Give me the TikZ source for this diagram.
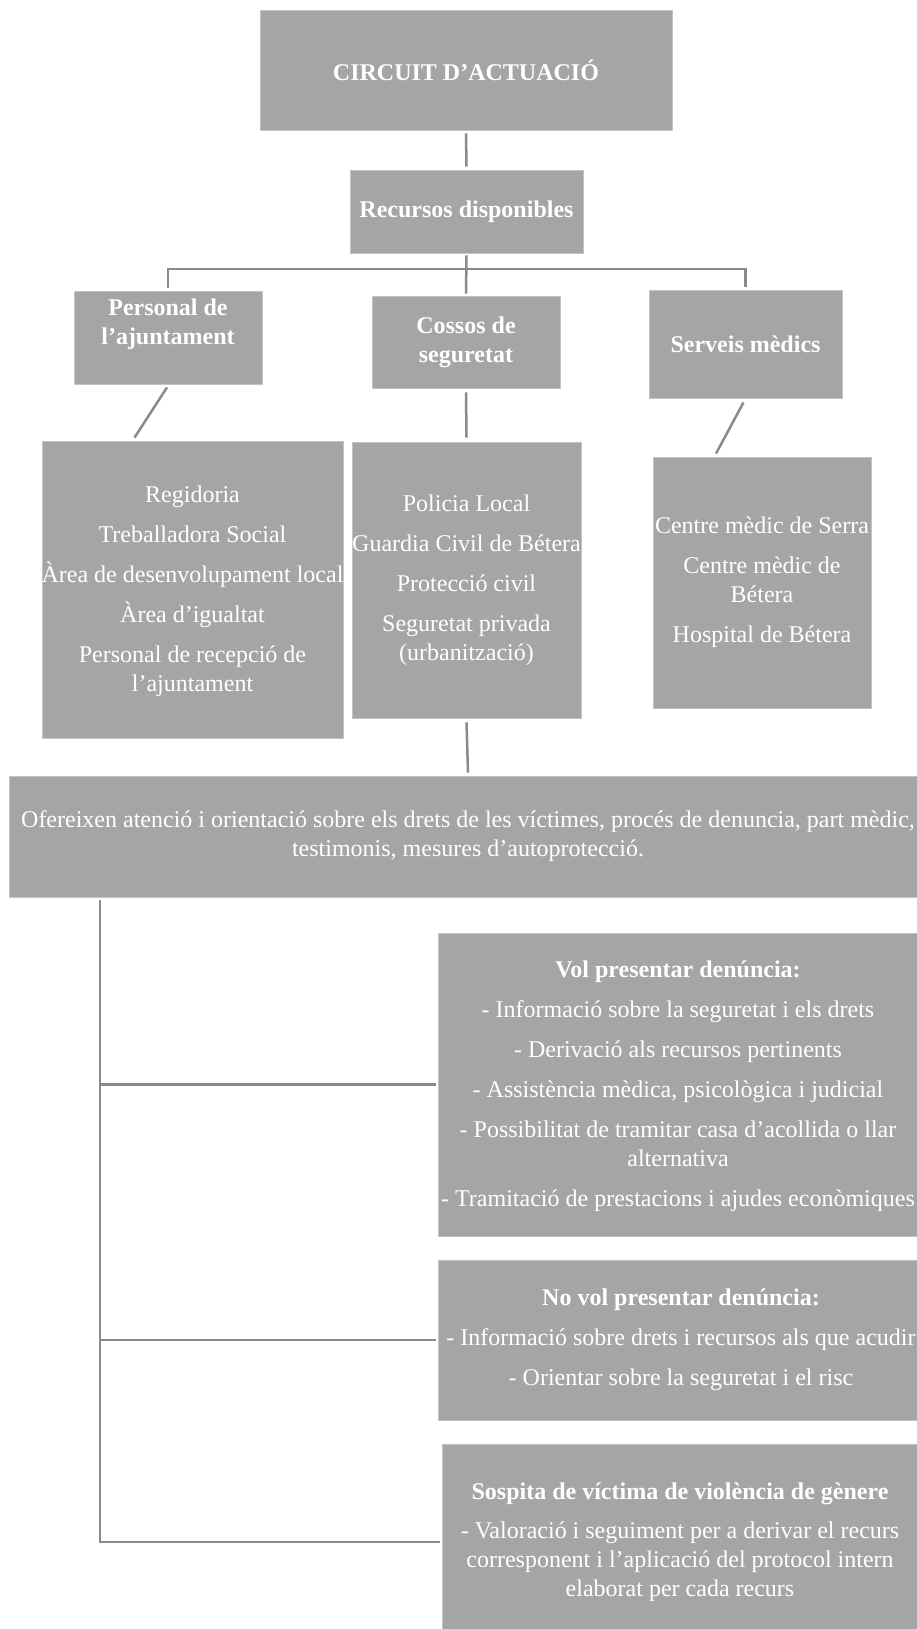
\documentclass[tikz,border=0pt]{standalone}
\usepackage{fontspec}
\setmainfont{Liberation Serif}
\definecolor{boxgray}{HTML}{A5A5A5}
\definecolor{edgegray}{HTML}{C4C4C4}
\definecolor{linegray}{HTML}{8A8A8A}
\begin{document}
\begin{tikzpicture}[x=1pt,y=-1pt,
  box/.style={fill=boxgray,draw=edgegray,line width=0.8pt,inner sep=0pt,rectangle},
  txt/.style={text=white,align=center,inner sep=0pt,font=\fontsize{24}{29}\selectfont},
  conn/.style={draw=linegray,line width=2.5pt}]
\useasboundingbox (0,0) rectangle (917,1629);
\def\g{11pt}
% boxes
\node[box,minimum width=412pt,minimum height=120pt] (top) at (466,70) {};
\node[txt] (top-t) at (top) {\textbf{CIRCUIT D’ACTUACIÓ}};
\node[box,minimum width=233pt,minimum height=83pt] (rec) at (466.5,211.5) {};
\node[txt] (rec-t) at (rec) {\textbf{Recursos disponibles}};
\node[box,minimum width=188pt,minimum height=93pt] (pers) at (168,337.5) {};
\node[txt] (pers-t) at (168,324) {\textbf{Personal de}\\\textbf{l’ajuntament}};
\node[box,minimum width=188pt,minimum height=92pt] (coss) at (466,342) {};
\node[txt] (coss-t) at (coss) {\textbf{Cossos de}\\\textbf{seguretat}};
\node[box,minimum width=193pt,minimum height=108pt] (serv) at (745.5,344) {};
\node[txt] (serv-t) at (serv) {\textbf{Serveis mèdics}};
\node[box,minimum width=301pt,minimum height=297pt] (reg) at (192.5,589.5) {};
\node[txt] (reg-t) at ([yshift=-2pt]reg.center) {Regidoria\\[\g] Treballadora Social\\[\g] Àrea de desenvolupament local\\[\g] Àrea d’igualtat\\[\g] Personal de recepció de\\ l’ajuntament};
\node[box,minimum width=229pt,minimum height=276pt] (pol) at (466.5,580) {};
\node[txt] (pol-t) at (pol) {Policia Local\\[\g] Guardia Civil de Bétera\\[\g] Protecció civil\\[\g] Seguretat privada\\ (urbanització)};
\node[box,minimum width=218pt,minimum height=251pt] (cen) at (762,582.5) {};
\node[txt] (cen-t) at (cen) {Centre mèdic de Serra\\[\g] Centre mèdic de\\ Bétera\\[\g] Hospital de Bétera};
\node[box,minimum width=918pt,minimum height=121pt] (big) at (468,836.5) {};
\node[txt] (big-t) at (big) {Ofereixen atenció i orientació sobre els drets de les víctimes, procés de denuncia, part mèdic,\\ testimonis, mesures d’autoprotecció.};
\node[box,minimum width=480pt,minimum height=303pt] (vol) at (678,1084.5) {};
\node[txt] (vol-t) at ([yshift=-2pt]vol.center) {\textbf{Vol presentar denúncia:}\\[\g] - Informació sobre la seguretat i els drets\\[\g] - Derivació als recursos pertinents\\[\g] - Assistència mèdica, psicològica i judicial\\[\g] - Possibilitat de tramitar casa d’acollida o llar\\ alternativa\\[\g] - Tramitació de prestacions i ajudes econòmiques};
\node[box,minimum width=486pt,minimum height=160pt] (novol) at (681,1340) {};
\node[txt] (novol-t) at (novol) {\textbf{No vol presentar denúncia:}\\[\g] - Informació sobre drets i recursos als que acudir\\[\g] - Orientar sobre la seguretat i el risc};
\node[box,minimum width=476pt,minimum height=196pt] (sosp) at (680,1542) {};
\node[txt] (sosp-t) at (sosp) {\textbf{Sospita de víctima de violència de gènere}\\[10pt] - Valoració i seguiment per a derivar el recurs\\ corresponent i l’aplicació del protocol intern\\ elaborat per cada recurs};
% connectors
\coordinate (bar) at (466,269);
\coordinate (trunk) at (100,900);
\draw[conn] ([yshift=-3pt]top.south) -- ([yshift=3pt]rec.north);
\draw[conn] ([yshift=-2pt]rec.south) -- ([yshift=2pt]coss.north);
\draw[conn] ([yshift=3pt]pers.north) |- (bar) -| ([yshift=3pt]serv.north);
\draw[conn] ([xshift=-1pt,yshift=-3pt]pers.south) -- ([xshift=-58pt,yshift=3pt]reg.north);
\draw[conn] ([xshift=-2pt,yshift=-4pt]serv.south) -- ([xshift=-46pt,yshift=3pt]cen.north);
\draw[conn] ([yshift=-4pt]coss.south) -- ([yshift=4pt]pol.north);
\draw[conn] ([yshift=-4pt]pol.south) -- ([yshift=3pt]big.north);
\draw[conn] (trunk) |- ([xshift=-2pt]sosp.west);
\draw[conn] (trunk |- vol.west) -- ([xshift=-2pt]vol.west);
\draw[conn] (trunk |- novol.west) -- ([xshift=-2pt]novol.west);
\end{tikzpicture}
\end{document}
